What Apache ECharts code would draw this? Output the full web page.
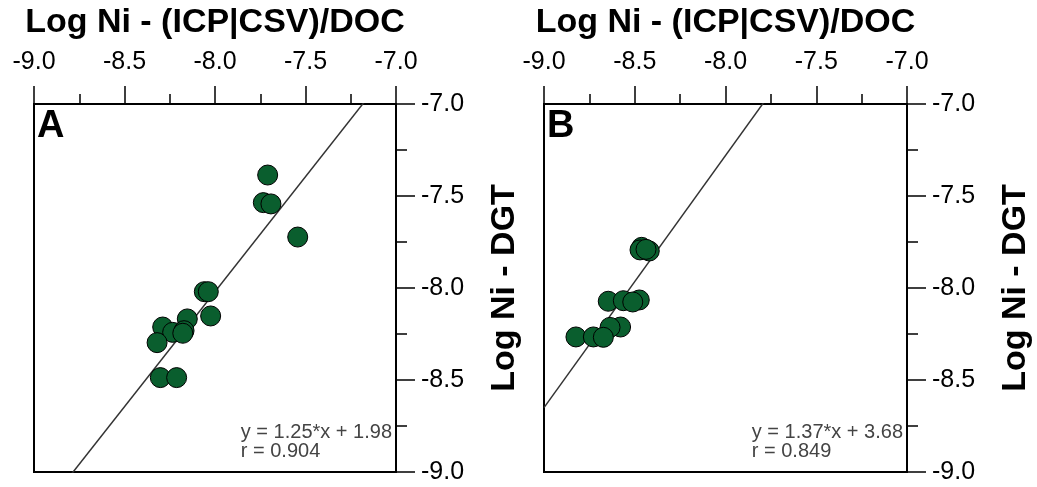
<!DOCTYPE html>
<html>
<head>
<meta charset="utf-8">
<script src="https://cdn.jsdelivr.net/npm/echarts@6/dist/echarts.min.js"></script>
<style>
html,body{margin:0;padding:0;background:#fff;}
#chart{width:1037px;height:487px;}
</style>
</head>
<body>
<div id="chart"></div>
<script>
// ---- data ----
var panelLetters = ['A', 'B'];
var xTitle = 'Log Ni - (ICP|CSV)/DOC';
var yTitle = 'Log Ni - DGT';
var axisMin = -9.0, axisMax = -7.0, axisStep = 0.5;

var pointsA_x = [-7.709, -7.733, -7.691, -7.543, -8.059, -8.037, -8.024, -8.153, -8.289, -8.234, -8.171, -8.178, -8.320, -8.302, -8.212];
var pointsA_y = [-7.386, -7.536, -7.543, -7.723, -8.020, -8.020, -8.152, -8.168, -8.212, -8.241, -8.232, -8.246, -8.297, -8.487, -8.487];

var pointsB_x = [-8.462, -8.420, -8.471, -8.438, -8.646, -8.563, -8.475, -8.511, -8.578, -8.636, -8.824, -8.728, -8.673];
var pointsB_y = [-7.779, -7.799, -7.793, -7.790, -8.072, -8.069, -8.065, -8.076, -8.212, -8.214, -8.266, -8.266, -8.268];

var slopes = [1.25, 1.37];
var intercepts = [1.98, 3.68];
var rValues = ['0.904', '0.849'];

// ---- layout ----
var FONT = '"Liberation Sans", Arial, sans-serif';
var grids = [
  {left: 34, top: 104, width: 362, height: 368},
  {left: 544, top: 104, width: 363, height: 368}
];

function pairs(xs, ys) { return xs.map(function (x, i) { return [x, ys[i]]; }); }
function fitLine(k) {
  return [[axisMin, slopes[k] * axisMin + intercepts[k]], [axisMax, slopes[k] * axisMax + intercepts[k]]];
}
var fmt = function (v) { return v.toFixed(1); };

var option = {
  backgroundColor: '#fff',
  animation: false,
  grid: grids.map(function (g) {
    return {left: g.left, top: g.top, width: g.width, height: g.height, show: true,
      borderColor: '#000', borderWidth: 2, backgroundColor: '#fff'};
  }),
  xAxis: grids.map(function (g, i) {
    return {
      type: 'value', gridIndex: i, position: 'top', min: axisMin, max: axisMax, interval: axisStep,
      name: xTitle, nameLocation: 'middle', nameGap: 64,
      nameTextStyle: {fontFamily: FONT, fontSize: 34, fontWeight: 'bold', color: '#000'},
      axisLine: {show: true, lineStyle: {color: '#000', width: 2}},
      axisTick: {show: true, inside: false, length: 18, lineStyle: {color: '#000', width: 1.5}},
      minorTick: {show: true, splitNumber: 2, length: 10, lineStyle: {color: '#000', width: 1.5}},
      splitLine: {show: false},
      axisLabel: {formatter: fmt, margin: 29, fontFamily: FONT, fontSize: 25, color: '#000'}
    };
  }),
  yAxis: grids.map(function (g, i) {
    return {
      type: 'value', gridIndex: i, position: 'right', min: axisMin, max: axisMax, interval: axisStep,
      name: yTitle, nameLocation: 'middle', nameGap: 92, nameRotate: 90,
      nameTextStyle: {fontFamily: FONT, fontSize: 34, fontWeight: 'bold', color: '#000'},
      axisLine: {show: true, lineStyle: {color: '#000', width: 2}},
      axisTick: {show: true, inside: false, length: 19, lineStyle: {color: '#000', width: 1.5}},
      minorTick: {show: true, splitNumber: 2, length: 11, lineStyle: {color: '#000', width: 1.5}},
      splitLine: {show: false},
      axisLabel: {formatter: fmt, margin: 25, fontFamily: FONT, fontSize: 25, color: '#000',
        verticalAlign: 'middle', padding: [4, 0, 0, 0]}
    };
  }),
  series: [
    {type: 'line', xAxisIndex: 0, yAxisIndex: 0, data: fitLine(0), symbol: 'none', clip: true,
      lineStyle: {color: '#333', width: 1.5}, z: 2},
    {type: 'scatter', xAxisIndex: 0, yAxisIndex: 0, data: pairs(pointsA_x, pointsA_y), symbolSize: 20,
      itemStyle: {color: '#0a5e2e', borderColor: '#000', borderWidth: 1, opacity: 1}, z: 3},
    {type: 'line', xAxisIndex: 1, yAxisIndex: 1, data: fitLine(1), symbol: 'none', clip: true,
      lineStyle: {color: '#333', width: 1.5}, z: 2},
    {type: 'scatter', xAxisIndex: 1, yAxisIndex: 1, data: pairs(pointsB_x, pointsB_y), symbolSize: 20,
      itemStyle: {color: '#0a5e2e', borderColor: '#000', borderWidth: 1, opacity: 1}, z: 3}
  ],
  graphic: []
};

grids.forEach(function (g, i) {
  option.graphic.push({
    type: 'text', left: g.left + 3, top: g.top + 4, z: 10,
    style: {text: panelLetters[i], font: 'bold 38px ' + FONT, fill: '#000'}
  });
  var eq = 'y = ' + slopes[i].toFixed(2) + '*x + ' + intercepts[i].toFixed(2);
  option.graphic.push({
    type: 'group', right: 1037 - (g.left + g.width - 4), top: g.top + g.height - 50, z: 10,
    children: [
      {type: 'text', x: 0, y: 0, style: {text: eq, font: '20px ' + FONT, fill: '#444'}},
      {type: 'text', x: 0, y: 19, style: {text: 'r = ' + rValues[i], font: '20px ' + FONT, fill: '#444'}}
    ]
  });
});

var chart = echarts.init(document.getElementById('chart'), null, {renderer: 'canvas'});
chart.setOption(option);
</script>
</body>
</html>
